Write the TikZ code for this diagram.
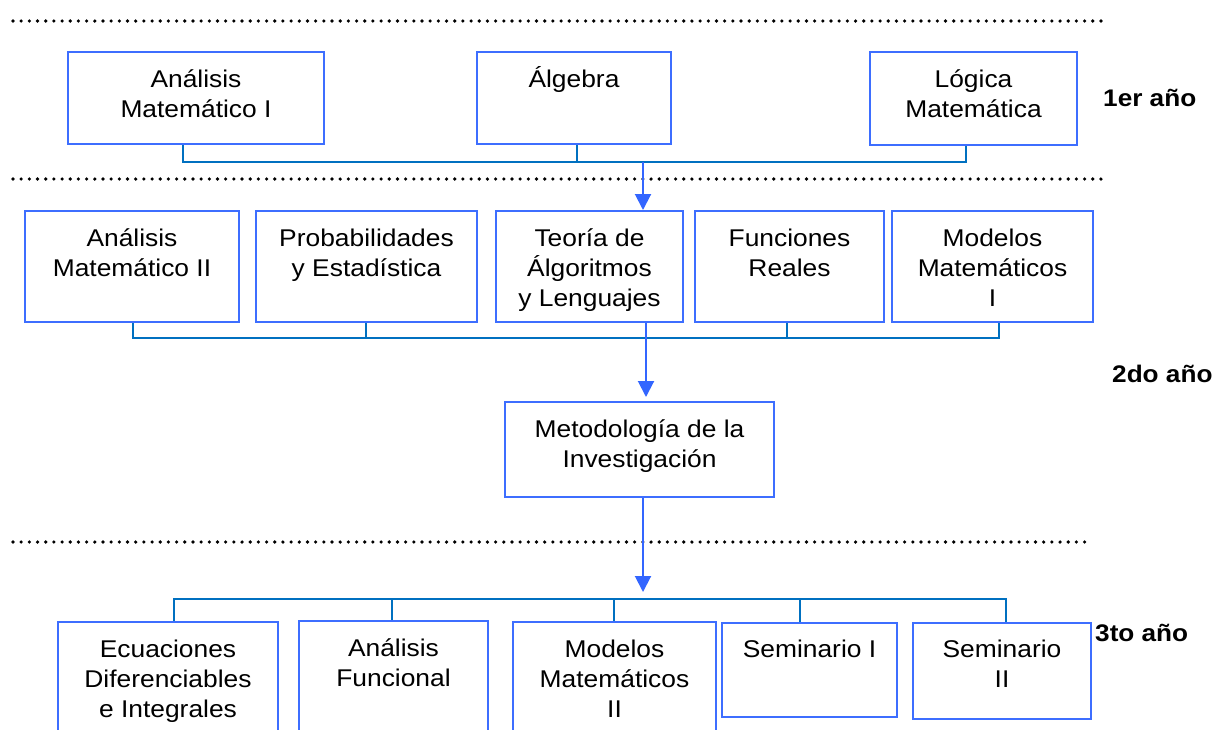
\documentclass[tikz,border=0pt]{standalone}
\usepackage{fontspec}
\setmainfont{Liberation Sans}[FakeStretch=1.09]
\usetikzlibrary{arrows.meta}
\definecolor{boxblue}{RGB}{61,110,255}
\definecolor{connblue}{RGB}{0,112,192}
\definecolor{arrblue}{RGB}{51,102,255}
\tikzset{
  box/.style={draw=boxblue, line width=2pt, fill=none, inner sep=0pt},
  txt/.style={anchor=base, align=center, inner sep=0pt, font=\fontsize{24.2}{30}\selectfont},
  year/.style={anchor=base west, inner sep=0pt, font=\fontsize{24}{29}\selectfont\bfseries},
  conn/.style={draw=connblue, line width=1.5pt},
  arr/.style={draw=arrblue, line width=2pt, -{Triangle[width=16pt,length=16pt]}},
  dots/.style={line width=3.6pt, line cap=round, dash pattern=on 0pt off 8.18pt}
}
\begin{document}
\begin{tikzpicture}[x=1pt,y=-1pt]
\useasboundingbox (0,0) rectangle (1215,729);
\clip (0,0) rectangle (1215,729);
% dotted separators
\draw[dots] (13,21) -- (1106,21);
\draw[dots] (13,179) -- (1106,179);
\draw[dots] (13,542) -- (1090,542);
% row 1
\node[box, minimum width=256pt, minimum height=92pt] (a1) at (196,98) {};
\node[box, minimum width=194pt, minimum height=92pt] (alg) at (574,98) {};
\node[box, minimum width=207pt, minimum height=93pt] (log) at (973.5,98.5) {};
\node[txt] (ta1) at (196,117) {Análisis\\Matemático I};
\node[txt] (talg) at (574,87) {Álgebra};
\node[txt] (tlog) at (973.5,117) {Lógica\\Matemática};
\node[year] (y1) at (1103,106) {1er año};
% row 2
\node[box, minimum width=214pt, minimum height=111pt] (am2) at (132,266.5) {};
\node[box, minimum width=221pt, minimum height=111pt] (prob) at (366.5,266.5) {};
\node[box, minimum width=187pt, minimum height=111pt] (teo) at (589.5,266.5) {};
\node[box, minimum width=189pt, minimum height=111pt] (fun) at (789.5,266.5) {};
\node[box, minimum width=201pt, minimum height=111pt] (mod1) at (992.5,266.5) {};
\node[txt] (tam2) at (132,276) {Análisis\\Matemático II};
\node[txt] (tprob) at (366.5,276) {Probabilidades\\y Estadística};
\node[txt] (tteo) at (589.5,306) {Teoría de\\Álgoritmos\\y Lenguajes};
\node[txt] (tfun) at (789.5,276) {Funciones\\Reales};
\node[txt] (tmod1) at (992.5,306) {Modelos\\Matemáticos\\I};
\node[year] (y2) at (1112,382) {2do año};
% Metodologia
\node[box, minimum width=269pt, minimum height=95pt] (met) at (639.5,449.5) {};
\node[txt] (tmet) at (639.5,467) {Metodología de la\\Investigación};
% row 3
\node[box, minimum width=220pt, minimum height=138pt] (ecu) at (168,691) {};
\node[box, minimum width=189pt, minimum height=139pt] (af) at (393.5,690.5) {};
\node[box, minimum width=203pt, minimum height=138pt] (mod2) at (614.5,691) {};
\node[box, minimum width=175pt, minimum height=94pt] (sem1) at (809.5,670) {};
\node[box, minimum width=178pt, minimum height=96pt] (sem2) at (1002,671) {};
\node[txt] (tecu) at (168,717) {Ecuaciones\\Diferenciables\\e Integrales};
\node[txt] (taf) at (393.5,686) {Análisis\\Funcional};
\node[txt] (tmod2) at (614.5,717) {Modelos\\Matemáticos\\II};
\node[txt] (tsem1) at (809.5,657) {Seminario I};
\node[txt] (tsem2) at (1002,687) {Seminario\\II};
\node[year] (y3) at (1095,641) {3to año};
% connectors row 1
\coordinate (j1a) at (183,162);
\coordinate (j1b) at (577,162);
\coordinate (j1c) at (966,162);
\coordinate (j1m) at (643,162);
\draw[conn] (j1a |- a1.south) -- (j1a) -- (j1c) -- (j1c |- log.south);
\draw[conn] (j1b |- alg.south) -- (j1b);
\draw[arr] (j1m) -- (j1m |- teo.north);
% connectors row 2
\coordinate (j2a) at (133,338);
\coordinate (j2b) at (366,338);
\coordinate (j2c) at (787,338);
\coordinate (j2d) at (999,338);
\coordinate (j2m) at (646,338);
\draw[conn] (j2a |- am2.south) -- (j2a) -- (j2d) -- (j2d |- mod1.south);
\draw[conn] (j2b |- prob.south) -- (j2b);
\draw[conn] (j2c |- fun.south) -- (j2c);
\draw[arr, shorten >=4pt] (j2m |- teo.south) -- (j2m |- met.north);
% connectors row 3
\coordinate (j3a) at (174,599);
\coordinate (j3b) at (392,599);
\coordinate (j3c) at (614,599);
\coordinate (j3d) at (800,599);
\coordinate (j3e) at (1006,599);
\coordinate (j3m) at (643,592);
\draw[arr] (j3m |- met.south) -- (j3m);
\draw[conn] (j3a |- ecu.north) -- (j3a) -- (j3e) -- (j3e |- sem2.north);
\draw[conn] (j3b |- af.north) -- (j3b);
\draw[conn] (j3c |- mod2.north) -- (j3c);
\draw[conn] (j3d |- sem1.north) -- (j3d);
\end{tikzpicture}
\end{document}
